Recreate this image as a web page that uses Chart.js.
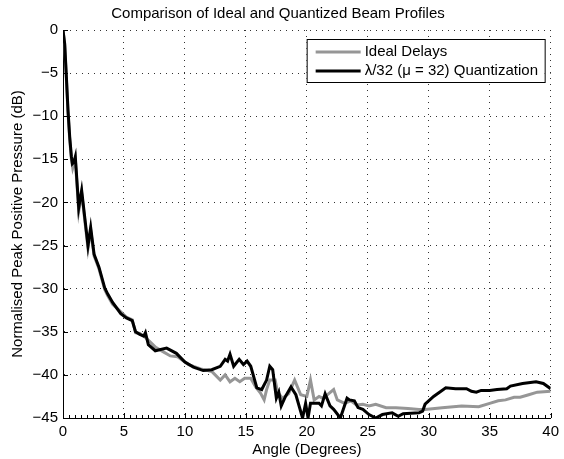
<!DOCTYPE html>
<html>
<head>
<meta charset="utf-8">
<script src="https://cdn.jsdelivr.net/npm/chart.js@4.4.0/dist/chart.umd.min.js"></script>
<style>
  html, body { margin: 0; padding: 0; background: #fff; }
</style>
</head>
<body>
<canvas id="beamChart" width="564" height="459"></canvas>
<script>
// values
const seriesNames = ['Ideal Delays', 'λ/32 (μ = 32) Quantization'];

const idealAngles = [
  0, 0.14, 0.28, 0.41, 0.55, 0.69, 0.8, 0.9, 1.01, 1.29,
  1.53, 2.05, 2.27, 2.55, 2.95, 3.42, 3.66, 4.07, 4.74, 5.2,
  5.68, 5.95, 6.3, 6.7, 7.1, 7.6, 8.2, 8.8, 9.4, 10.3,
  11.3, 12.2, 12.9, 13.3, 13.7, 14.1, 14.5, 14.9, 15.4, 15.8,
  16.2, 16.5, 16.7, 16.96, 17.4, 17.6, 18.0, 18.5, 19.0, 19.5,
  20.0, 20.3, 20.6, 21.0, 21.3, 21.6, 22.2, 22.5, 23.1, 23.6,
  24.1, 24.6, 25.1, 25.65, 26.5, 27.3, 28.3, 29.2, 29.7, 31.1,
  32.7, 34.1, 35.0, 35.7, 36.3, 37.0, 37.5, 38.2, 38.9, 40
];
const idealDb = [
  0, -1.8, -5.8, -9.6, -12.7, -15.0, -16.0, -15.5, -15.0, -21.0,
  -18.9, -25.3, -23.2, -26.2, -27.7, -30.1, -30.8, -31.8, -32.7, -33.3,
  -33.6, -35.1, -35.2, -35.6, -36.1, -36.8, -37.3, -37.8, -37.9, -38.8,
  -39.3, -39.6, -40.6, -40.0, -40.8, -40.4, -40.8, -40.4, -40.4, -41.4,
  -42.1, -42.9, -41.7, -40.6, -40.6, -42.0, -42.7, -42.2, -40.6, -42.3,
  -42.5, -40.6, -42.9, -42.5, -42.7, -42.4, -41.7, -42.9, -43.3, -43.0,
  -43.5, -43.4, -43.6, -43.4, -43.8, -43.8, -43.9, -44.0, -44.0, -43.8,
  -43.6, -43.7, -43.3, -43.0, -42.9, -42.6, -42.6, -42.3, -42.0, -41.9
];

const quantAngles = [
  0, 0.14, 0.28, 0.41, 0.55, 0.69, 0.77, 0.9, 1.01, 1.29,
  1.53, 2.05, 2.27, 2.55, 2.95, 3.42, 3.66, 4.07, 4.74, 5.2,
  5.68, 5.95, 6.3, 6.62, 6.76, 7.0, 7.57, 8.5, 9.3, 10.0,
  10.7, 11.5, 12.2, 12.9, 13.1, 13.3, 13.5, 13.7, 14.0, 14.45,
  14.8, 15.1, 15.4, 15.9, 16.3, 16.7, 16.96, 17.2, 17.5, 17.7,
  17.9, 18.25, 18.7, 19.1, 19.65, 19.9, 20.1, 20.3, 21.0, 21.2,
  21.5, 21.9, 22.2, 22.75, 23.3, 23.5, 23.9, 24.2, 24.6, 25.1,
  25.65, 26.2, 27.0, 27.5, 27.9, 29.2, 29.5, 29.7, 30.4, 31.4,
  32.2, 33.1, 33.5, 33.9, 34.3, 35.0, 35.6, 36.4, 36.7, 37.7,
  38.8, 39.4, 40
];
const quantDb = [
  0, -1.6, -5.5, -9.3, -12.4, -14.7, -15.5, -15.3, -14.7, -20.6,
  -18.6, -25, -22.9, -26, -27.5, -29.9, -30.6, -31.6, -32.9, -33.4,
  -33.7, -35.0, -35.3, -35.5, -35.1, -36.5, -37.2, -36.9, -37.5, -38.5,
  -39.1, -39.5, -39.4, -39.0, -38.6, -38.2, -38.4, -37.6, -39.0, -38.2,
  -38.8, -38.4, -39.0, -41.5, -41.7, -40.6, -39.0, -39.4, -42.7, -42.0,
  -43.6, -42.5, -41.4, -42.3, -45, -43.3, -45, -43.3, -43.3, -43.6,
  -42.2, -43.6, -44.0, -45, -42.7, -42.9, -43.0, -43.8, -44.0, -44.6,
  -45, -44.6, -44.4, -44.8, -44.5, -44.4, -44.2, -43.4, -42.5, -41.5,
  -41.6, -41.6, -41.9, -42.0, -41.8, -41.8, -41.7, -41.6, -41.3, -41.0,
  -40.8, -41.0, -41.6
];

const xTicks = [0, 5, 10, 15, 20, 25, 30, 35, 40];
const yTicks = [0, -5, -10, -15, -20, -25, -30, -35, -40, -45];

function toPoints(xs, ys) {
  return xs.map((x, i) => ({x: x, y: ys[i]}));
}
function minusSign(v) {
  return String(v).replace('-', '\u2212');
}

Chart.defaults.font.family = '"Liberation Sans", Arial, sans-serif';
Chart.defaults.color = '#000';

// MATLAB style ticks pointing into the axes
const insideTicks = {
  id: 'insideTicks',
  afterDraw(chart) {
    const {ctx, chartArea: a, scales: {x, y}} = chart;
    ctx.save();
    ctx.strokeStyle = '#000';
    ctx.lineWidth = 1;
    ctx.beginPath();
    for (let v = x.min; v <= x.max + 1e-9; v += 0.5) {
      const px = Math.round(x.getPixelForValue(v)) + 0.5;
      const len = v % 5 === 0 ? 5 : 3;
      ctx.moveTo(px, a.bottom);
      ctx.lineTo(px, a.bottom - len);
    }
    yTicks.forEach(v => {
      const py = Math.round(y.getPixelForValue(v)) + 0.5;
      ctx.moveTo(a.left, py);
      ctx.lineTo(a.left + 5, py);
    });
    ctx.stroke();
    ctx.restore();
  }
};

// boxed legend in the top right corner
const boxLegend = {
  id: 'boxLegend',
  afterDraw(chart) {
    const {ctx, chartArea: a} = chart;
    const left = a.right - 244, top = a.top + 9, w = 238, h = 43;
    ctx.save();
    ctx.fillStyle = '#fff';
    ctx.fillRect(left, top, w, h);
    ctx.strokeStyle = '#000';
    ctx.lineWidth = 1;
    ctx.strokeRect(left + 0.5, top + 0.5, w, h);
    ctx.font = '15px "Liberation Sans", Arial, sans-serif';
    ctx.textBaseline = 'middle';
    chart.data.datasets.forEach((ds, i) => {
      const ry = top + 13 + i * 19;
      ctx.strokeStyle = ds.borderColor;
      ctx.lineWidth = 3;
      ctx.beginPath();
      ctx.moveTo(left + 9, ry);
      ctx.lineTo(left + 54, ry);
      ctx.stroke();
      ctx.fillStyle = '#000';
      ctx.fillText(ds.label, left + 58, ry);
    });
    ctx.restore();
  }
};

const ctx = document.getElementById('beamChart').getContext('2d');
const beamChart = new Chart(ctx, {
  type: 'line',
  data: {
    datasets: [{
      label: seriesNames[0],
      data: toPoints(idealAngles, idealDb),
      borderColor: 'rgb(150, 150, 150)',
      borderWidth: 3,
      pointRadius: 0,
      tension: 0,
      order: 2
    }, {
      label: seriesNames[1],
      data: toPoints(quantAngles, quantDb),
      borderColor: '#000',
      borderWidth: 3,
      pointRadius: 0,
      tension: 0,
      order: 1
    }]
  },
  options: {
    responsive: false,
    animation: false,
    layout: { padding: { left: 0, right: 8, top: 0, bottom: 0 } },
    plugins: {
      legend: { display: false },
      tooltip: { enabled: false },
      title: {
        display: true,
        text: 'Comparison of Ideal and Quantized Beam Profiles',
        color: '#000',
        font: { size: 15, weight: 'normal' },
        padding: { top: 5, bottom: 7 }
      }
    },
    scales: {
      x: {
        type: 'linear',
        min: 0,
        max: 40,
        afterBuildTicks: s => { s.ticks = xTicks.map(v => ({value: v})); },
        afterFit: s => { s.height = 41; },
        ticks: { font: { size: 15 }, color: '#000', padding: 5, maxRotation: 0 },
        grid: { color: '#333', lineWidth: 1, drawTicks: false },
        border: { display: true, color: '#000', width: 1, dash: [1, 5] },
        title: {
          display: true,
          text: 'Angle (Degrees)',
          font: { size: 15 },
          color: '#000',
          padding: { top: 0, bottom: 0 }
        }
      },
      y: {
        type: 'linear',
        min: -45,
        max: 0,
        afterBuildTicks: s => { s.ticks = yTicks.map(v => ({value: v})); },
        afterFit: s => { s.width = 63; },
        ticks: { font: { size: 15 }, color: '#000', padding: 5, callback: v => minusSign(v) },
        grid: { color: '#333', lineWidth: 1, drawTicks: false },
        border: { display: true, color: '#000', width: 1, dash: [1, 5] },
        title: {
          display: true,
          text: 'Normalised Peak Positive Pressure (dB)',
          font: { size: 15 },
          color: '#000',
          padding: { top: 9, bottom: 0 }
        }
      }
    }
  },
  plugins: [insideTicks, boxLegend]
});
</script>
</body>
</html>
